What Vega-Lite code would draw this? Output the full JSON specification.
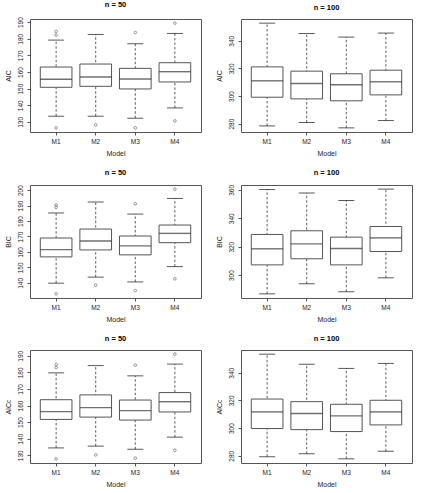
{
  "$schema": "https://vega.github.io/schema/vega-lite/v6.json",
  "padding": {"left": 3, "top": 0, "right": 0, "bottom": 0},
  "background": "white",
  "spacing": 11,
  "datasets": {
    "box": [
      {"crit": "AIC", "n": 50, "model": "M1", "lo": 133.4, "q1": 150.8, "med": 155.6, "q3": 163.0, "hi": 179.2},
      {"crit": "AIC", "n": 50, "model": "M2", "lo": 133.4, "q1": 151.4, "med": 157.0, "q3": 164.8, "hi": 182.6},
      {"crit": "AIC", "n": 50, "model": "M3", "lo": 132.2, "q1": 149.8, "med": 155.8, "q3": 162.2, "hi": 177.0},
      {"crit": "AIC", "n": 50, "model": "M4", "lo": 138.4, "q1": 154.0, "med": 160.2, "q3": 165.6, "hi": 183.2},
      {"crit": "AIC", "n": 100, "model": "M1", "lo": 278.3, "q1": 299.1, "med": 311.0, "q3": 321.1, "hi": 352.8},
      {"crit": "AIC", "n": 100, "model": "M2", "lo": 280.7, "q1": 297.9, "med": 309.0, "q3": 318.0, "hi": 345.3},
      {"crit": "AIC", "n": 100, "model": "M3", "lo": 276.9, "q1": 296.5, "med": 308.1, "q3": 316.1, "hi": 342.7},
      {"crit": "AIC", "n": 100, "model": "M4", "lo": 282.2, "q1": 300.8, "med": 310.3, "q3": 318.7, "hi": 345.6},
      {"crit": "BIC", "n": 50, "model": "M1", "lo": 139.8, "q1": 156.8, "med": 161.5, "q3": 169.0, "hi": 185.2},
      {"crit": "BIC", "n": 50, "model": "M2", "lo": 143.7, "q1": 161.3, "med": 167.1, "q3": 174.8, "hi": 192.3},
      {"crit": "BIC", "n": 50, "model": "M3", "lo": 140.6, "q1": 158.1, "med": 163.9, "q3": 170.3, "hi": 184.5},
      {"crit": "BIC", "n": 50, "model": "M4", "lo": 150.5, "q1": 166.0, "med": 172.0, "q3": 177.4, "hi": 194.6},
      {"crit": "BIC", "n": 100, "model": "M1", "lo": 286.8, "q1": 307.2, "med": 318.5, "q3": 328.6, "hi": 360.2},
      {"crit": "BIC", "n": 100, "model": "M2", "lo": 293.9, "q1": 311.5, "med": 322.0, "q3": 331.2, "hi": 357.7},
      {"crit": "BIC", "n": 100, "model": "M3", "lo": 288.3, "q1": 307.2, "med": 318.7, "q3": 326.7, "hi": 352.5},
      {"crit": "BIC", "n": 100, "model": "M4", "lo": 298.1, "q1": 316.6, "med": 326.2, "q3": 334.2, "hi": 360.5},
      {"crit": "AICc", "n": 50, "model": "M1", "lo": 134.4, "q1": 151.6, "med": 156.3, "q3": 163.5, "hi": 179.7},
      {"crit": "AICc", "n": 50, "model": "M2", "lo": 135.5, "q1": 153.0, "med": 158.7, "q3": 166.4, "hi": 184.1},
      {"crit": "AICc", "n": 50, "model": "M3", "lo": 133.6, "q1": 151.2, "med": 156.9, "q3": 163.3, "hi": 177.9},
      {"crit": "AICc", "n": 50, "model": "M4", "lo": 140.9, "q1": 156.1, "med": 162.3, "q3": 167.8, "hi": 185.0},
      {"crit": "AICc", "n": 100, "model": "M1", "lo": 279.3, "q1": 299.7, "med": 311.7, "q3": 321.0, "hi": 353.4},
      {"crit": "AICc", "n": 100, "model": "M2", "lo": 281.4, "q1": 298.9, "med": 310.5, "q3": 319.1, "hi": 346.2},
      {"crit": "AICc", "n": 100, "model": "M3", "lo": 277.8, "q1": 297.5, "med": 308.8, "q3": 317.2, "hi": 343.1},
      {"crit": "AICc", "n": 100, "model": "M4", "lo": 283.3, "q1": 302.3, "med": 311.7, "q3": 320.1, "hi": 346.7}
    ],
    "out": [
      {"crit": "AIC", "n": 50, "model": "M1", "v": 184.4},
      {"crit": "AIC", "n": 50, "model": "M1", "v": 182.2},
      {"crit": "AIC", "n": 50, "model": "M1", "v": 126.4},
      {"crit": "AIC", "n": 50, "model": "M2", "v": 128.2},
      {"crit": "AIC", "n": 50, "model": "M3", "v": 183.8},
      {"crit": "AIC", "n": 50, "model": "M3", "v": 126.4},
      {"crit": "AIC", "n": 50, "model": "M4", "v": 189.4},
      {"crit": "AIC", "n": 50, "model": "M4", "v": 130.6},
      {"crit": "BIC", "n": 50, "model": "M1", "v": 190.3},
      {"crit": "BIC", "n": 50, "model": "M1", "v": 188.8},
      {"crit": "BIC", "n": 50, "model": "M1", "v": 132.9},
      {"crit": "BIC", "n": 50, "model": "M2", "v": 138.5},
      {"crit": "BIC", "n": 50, "model": "M3", "v": 191.2},
      {"crit": "BIC", "n": 50, "model": "M3", "v": 135.0},
      {"crit": "BIC", "n": 50, "model": "M4", "v": 200.6},
      {"crit": "BIC", "n": 50, "model": "M4", "v": 142.6},
      {"crit": "AICc", "n": 50, "model": "M1", "v": 184.7},
      {"crit": "AICc", "n": 50, "model": "M1", "v": 182.9},
      {"crit": "AICc", "n": 50, "model": "M1", "v": 127.8},
      {"crit": "AICc", "n": 50, "model": "M2", "v": 130.2},
      {"crit": "AICc", "n": 50, "model": "M3", "v": 184.3},
      {"crit": "AICc", "n": 50, "model": "M3", "v": 128.2},
      {"crit": "AICc", "n": 50, "model": "M4", "v": 191.0},
      {"crit": "AICc", "n": 50, "model": "M4", "v": 133.0}
    ]
  },
  "config": {
    "font": "Liberation Sans",
    "view": {"stroke": "#555", "strokeWidth": 1},
    "axis": {"domain": false, "grid": false, "tickColor": "#555", "tickSize": 3, "labelFontSize": 6.5, "labelColor": "#222", "labelOverlap": false, "titleFontSize": 7, "titleFontWeight": "normal", "titleColor": "#222"},
    "axisX": {"labelAngle": 0, "labelPadding": 3, "titlePadding": 5},
    "axisY": {"labelAngle": -90, "labelPadding": 4, "titlePadding": 6, "labelOverlap": false, "labelFlush": false, "labelSeparation": 0},
    "title": {"fontSize": 7.5, "fontWeight": "bold", "offset": 8, "color": "#000"},
    "concat": {"spacing": 12}
  },
  "vconcat": [
    {
      "hconcat": [
        {
          "width": 171, "height": 113,
          "title": "n = 50",
          "data": {"name": "box"},
          "transform": [{"filter": "datum.crit == 'AIC' && datum.n == 50"}],
          "encoding": {"x": {"field": "model", "type": "nominal", "scale": {"type": "band", "domain": ["M1", "M2", "M3", "M4"], "paddingInner": 0.2, "paddingOuter": 0.26}, "axis": {"title": "Model"}}},
          "layer": [
            {"mark": {"type": "rule", "stroke": "#333", "strokeWidth": 0.8, "strokeDash": [2.5, 2]}, "encoding": {"y": {"field": "lo", "type": "quantitative", "scale": {"domain": [123.9, 191.9], "nice": false, "zero": false}, "axis": {"title": "AIC", "values": [130, 140, 150, 160, 170, 180, 190]}}, "y2": {"field": "hi"}}},
            {"mark": {"type": "tick", "color": "#111", "size": 16, "thickness": 1}, "encoding": {"y": {"field": "lo", "type": "quantitative", "axis": {"title": "AIC", "values": [130, 140, 150, 160, 170, 180, 190]}}}},
            {"mark": {"type": "tick", "color": "#111", "size": 16, "thickness": 1}, "encoding": {"y": {"field": "hi", "type": "quantitative", "axis": {"title": "AIC", "values": [130, 140, 150, 160, 170, 180, 190]}}}},
            {"mark": {"type": "bar", "fill": "white", "stroke": "#555", "strokeWidth": 1}, "encoding": {"y": {"field": "q1", "type": "quantitative", "axis": {"title": "AIC", "values": [130, 140, 150, 160, 170, 180, 190]}}, "y2": {"field": "q3"}}},
            {"mark": {"type": "tick", "color": "#333", "size": 31.7, "thickness": 1.4}, "encoding": {"y": {"field": "med", "type": "quantitative", "axis": {"title": "AIC", "values": [130, 140, 150, 160, 170, 180, 190]}}}},
            {"data": {"name": "out"}, "transform": [{"filter": "datum.crit == 'AIC' && datum.n == 50"}], "mark": {"type": "point", "shape": "circle", "filled": false, "size": 7, "stroke": "#333", "strokeWidth": 0.7}, "encoding": {"y": {"field": "v", "type": "quantitative", "axis": {"title": "AIC", "values": [130, 140, 150, 160, 170, 180, 190]}}}}
          ]
        },
        {
          "width": 171, "height": 113,
          "title": "n = 100",
          "data": {"name": "box"},
          "transform": [{"filter": "datum.crit == 'AIC' && datum.n == 100"}],
          "encoding": {"x": {"field": "model", "type": "nominal", "scale": {"type": "band", "domain": ["M1", "M2", "M3", "M4"], "paddingInner": 0.2, "paddingOuter": 0.26}, "axis": {"title": "Model"}}},
          "layer": [
            {"mark": {"type": "rule", "stroke": "#333", "strokeWidth": 0.8, "strokeDash": [2.5, 2]}, "encoding": {"y": {"field": "lo", "type": "quantitative", "scale": {"domain": [273.9, 355.8], "nice": false, "zero": false}, "axis": {"title": "AIC", "values": [280, 300, 320, 340]}}, "y2": {"field": "hi"}}},
            {"mark": {"type": "tick", "color": "#111", "size": 16, "thickness": 1}, "encoding": {"y": {"field": "lo", "type": "quantitative", "axis": {"title": "AIC", "values": [280, 300, 320, 340]}}}},
            {"mark": {"type": "tick", "color": "#111", "size": 16, "thickness": 1}, "encoding": {"y": {"field": "hi", "type": "quantitative", "axis": {"title": "AIC", "values": [280, 300, 320, 340]}}}},
            {"mark": {"type": "bar", "fill": "white", "stroke": "#555", "strokeWidth": 1}, "encoding": {"y": {"field": "q1", "type": "quantitative", "axis": {"title": "AIC", "values": [280, 300, 320, 340]}}, "y2": {"field": "q3"}}},
            {"mark": {"type": "tick", "color": "#333", "size": 31.7, "thickness": 1.4}, "encoding": {"y": {"field": "med", "type": "quantitative", "axis": {"title": "AIC", "values": [280, 300, 320, 340]}}}}
          ]
        }
      ]
    },
    {
      "hconcat": [
        {
          "width": 171, "height": 113,
          "title": "n = 50",
          "data": {"name": "box"},
          "transform": [{"filter": "datum.crit == 'BIC' && datum.n == 50"}],
          "encoding": {"x": {"field": "model", "type": "nominal", "scale": {"type": "band", "domain": ["M1", "M2", "M3", "M4"], "paddingInner": 0.2, "paddingOuter": 0.26}, "axis": {"title": "Model"}}},
          "layer": [
            {"mark": {"type": "rule", "stroke": "#333", "strokeWidth": 0.8, "strokeDash": [2.5, 2]}, "encoding": {"y": {"field": "lo", "type": "quantitative", "scale": {"domain": [130.2, 203.3], "nice": false, "zero": false}, "axis": {"title": "BIC", "values": [140, 150, 160, 170, 180, 190, 200]}}, "y2": {"field": "hi"}}},
            {"mark": {"type": "tick", "color": "#111", "size": 16, "thickness": 1}, "encoding": {"y": {"field": "lo", "type": "quantitative", "axis": {"title": "BIC", "values": [140, 150, 160, 170, 180, 190, 200]}}}},
            {"mark": {"type": "tick", "color": "#111", "size": 16, "thickness": 1}, "encoding": {"y": {"field": "hi", "type": "quantitative", "axis": {"title": "BIC", "values": [140, 150, 160, 170, 180, 190, 200]}}}},
            {"mark": {"type": "bar", "fill": "white", "stroke": "#555", "strokeWidth": 1}, "encoding": {"y": {"field": "q1", "type": "quantitative", "axis": {"title": "BIC", "values": [140, 150, 160, 170, 180, 190, 200]}}, "y2": {"field": "q3"}}},
            {"mark": {"type": "tick", "color": "#333", "size": 31.7, "thickness": 1.4}, "encoding": {"y": {"field": "med", "type": "quantitative", "axis": {"title": "BIC", "values": [140, 150, 160, 170, 180, 190, 200]}}}},
            {"data": {"name": "out"}, "transform": [{"filter": "datum.crit == 'BIC' && datum.n == 50"}], "mark": {"type": "point", "shape": "circle", "filled": false, "size": 7, "stroke": "#333", "strokeWidth": 0.7}, "encoding": {"y": {"field": "v", "type": "quantitative", "axis": {"title": "BIC", "values": [140, 150, 160, 170, 180, 190, 200]}}}}
          ]
        },
        {
          "width": 171, "height": 113,
          "title": "n = 100",
          "data": {"name": "box"},
          "transform": [{"filter": "datum.crit == 'BIC' && datum.n == 100"}],
          "encoding": {"x": {"field": "model", "type": "nominal", "scale": {"type": "band", "domain": ["M1", "M2", "M3", "M4"], "paddingInner": 0.2, "paddingOuter": 0.26}, "axis": {"title": "Model"}}},
          "layer": [
            {"mark": {"type": "rule", "stroke": "#333", "strokeWidth": 0.8, "strokeDash": [2.5, 2]}, "encoding": {"y": {"field": "lo", "type": "quantitative", "scale": {"domain": [283.9, 363.4], "nice": false, "zero": false}, "axis": {"title": "BIC", "values": [300, 320, 340, 360]}}, "y2": {"field": "hi"}}},
            {"mark": {"type": "tick", "color": "#111", "size": 16, "thickness": 1}, "encoding": {"y": {"field": "lo", "type": "quantitative", "axis": {"title": "BIC", "values": [300, 320, 340, 360]}}}},
            {"mark": {"type": "tick", "color": "#111", "size": 16, "thickness": 1}, "encoding": {"y": {"field": "hi", "type": "quantitative", "axis": {"title": "BIC", "values": [300, 320, 340, 360]}}}},
            {"mark": {"type": "bar", "fill": "white", "stroke": "#555", "strokeWidth": 1}, "encoding": {"y": {"field": "q1", "type": "quantitative", "axis": {"title": "BIC", "values": [300, 320, 340, 360]}}, "y2": {"field": "q3"}}},
            {"mark": {"type": "tick", "color": "#333", "size": 31.7, "thickness": 1.4}, "encoding": {"y": {"field": "med", "type": "quantitative", "axis": {"title": "BIC", "values": [300, 320, 340, 360]}}}}
          ]
        }
      ]
    },
    {
      "hconcat": [
        {
          "width": 171, "height": 113,
          "title": "n = 50",
          "data": {"name": "box"},
          "transform": [{"filter": "datum.crit == 'AICc' && datum.n == 50"}],
          "encoding": {"x": {"field": "model", "type": "nominal", "scale": {"type": "band", "domain": ["M1", "M2", "M3", "M4"], "paddingInner": 0.2, "paddingOuter": 0.26}, "axis": {"title": "Model"}}},
          "layer": [
            {"mark": {"type": "rule", "stroke": "#333", "strokeWidth": 0.8, "strokeDash": [2.5, 2]}, "encoding": {"y": {"field": "lo", "type": "quantitative", "scale": {"domain": [125.3, 193.5], "nice": false, "zero": false}, "axis": {"title": "AICc", "values": [130, 140, 150, 160, 170, 180, 190]}}, "y2": {"field": "hi"}}},
            {"mark": {"type": "tick", "color": "#111", "size": 16, "thickness": 1}, "encoding": {"y": {"field": "lo", "type": "quantitative", "axis": {"title": "AICc", "values": [130, 140, 150, 160, 170, 180, 190]}}}},
            {"mark": {"type": "tick", "color": "#111", "size": 16, "thickness": 1}, "encoding": {"y": {"field": "hi", "type": "quantitative", "axis": {"title": "AICc", "values": [130, 140, 150, 160, 170, 180, 190]}}}},
            {"mark": {"type": "bar", "fill": "white", "stroke": "#555", "strokeWidth": 1}, "encoding": {"y": {"field": "q1", "type": "quantitative", "axis": {"title": "AICc", "values": [130, 140, 150, 160, 170, 180, 190]}}, "y2": {"field": "q3"}}},
            {"mark": {"type": "tick", "color": "#333", "size": 31.7, "thickness": 1.4}, "encoding": {"y": {"field": "med", "type": "quantitative", "axis": {"title": "AICc", "values": [130, 140, 150, 160, 170, 180, 190]}}}},
            {"data": {"name": "out"}, "transform": [{"filter": "datum.crit == 'AICc' && datum.n == 50"}], "mark": {"type": "point", "shape": "circle", "filled": false, "size": 7, "stroke": "#333", "strokeWidth": 0.7}, "encoding": {"y": {"field": "v", "type": "quantitative", "axis": {"title": "AICc", "values": [130, 140, 150, 160, 170, 180, 190]}}}}
          ]
        },
        {
          "width": 171, "height": 113,
          "title": "n = 100",
          "data": {"name": "box"},
          "transform": [{"filter": "datum.crit == 'AICc' && datum.n == 100"}],
          "encoding": {"x": {"field": "model", "type": "nominal", "scale": {"type": "band", "domain": ["M1", "M2", "M3", "M4"], "paddingInner": 0.2, "paddingOuter": 0.26}, "axis": {"title": "Model"}}},
          "layer": [
            {"mark": {"type": "rule", "stroke": "#333", "strokeWidth": 0.8, "strokeDash": [2.5, 2]}, "encoding": {"y": {"field": "lo", "type": "quantitative", "scale": {"domain": [274.8, 356.4], "nice": false, "zero": false}, "axis": {"title": "AICc", "values": [280, 300, 320, 340]}}, "y2": {"field": "hi"}}},
            {"mark": {"type": "tick", "color": "#111", "size": 16, "thickness": 1}, "encoding": {"y": {"field": "lo", "type": "quantitative", "axis": {"title": "AICc", "values": [280, 300, 320, 340]}}}},
            {"mark": {"type": "tick", "color": "#111", "size": 16, "thickness": 1}, "encoding": {"y": {"field": "hi", "type": "quantitative", "axis": {"title": "AICc", "values": [280, 300, 320, 340]}}}},
            {"mark": {"type": "bar", "fill": "white", "stroke": "#555", "strokeWidth": 1}, "encoding": {"y": {"field": "q1", "type": "quantitative", "axis": {"title": "AICc", "values": [280, 300, 320, 340]}}, "y2": {"field": "q3"}}},
            {"mark": {"type": "tick", "color": "#333", "size": 31.7, "thickness": 1.4}, "encoding": {"y": {"field": "med", "type": "quantitative", "axis": {"title": "AICc", "values": [280, 300, 320, 340]}}}}
          ]
        }
      ]
    }
  ]
}
